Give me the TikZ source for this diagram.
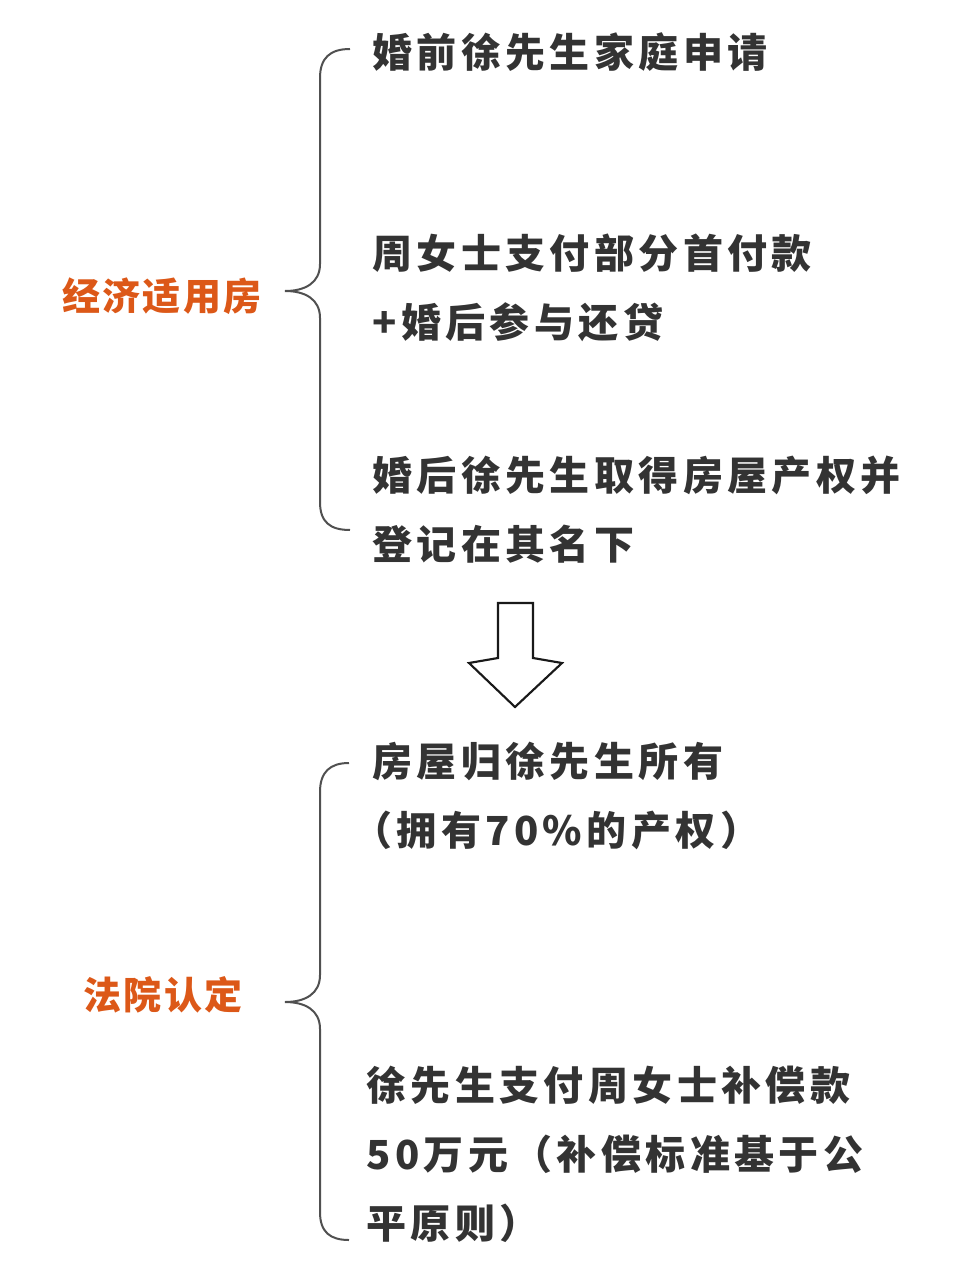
\documentclass[tikz,border=0pt]{standalone}
\usepackage{fontspec}
\newfontfamily\cjktopic[LetterSpace=6]{Noto Sans CJK SC}
\newfontfamily\cjkentry[LetterSpace=11]{Noto Sans CJK SC}
\usepackage{tikz}
\usetikzlibrary{calc}

\definecolor{topicorange}{RGB}{220,88,24}
\definecolor{entrygray}{RGB}{51,51,51}
\definecolor{bracegray}{RGB}{80,80,80}

\begin{document}
\begin{tikzpicture}[x=0.75pt, y=-0.75pt,
    topic/.style={text=topicorange, font=\cjktopic\bfseries\fontsize{28.5}{33}\selectfont, inner sep=0pt},
    entry/.style={text=entrygray, font=\cjkentry\bfseries\fontsize{30}{51.75}\selectfont, align=left, anchor=west, inner sep=0pt},
    brace/.style={draw=bracegray, line width=1.5pt}]
        \useasboundingbox (0,0) rectangle (974,1280);

        % Topics
        \node[topic] (housing) at (162,296) {经济适用房};
        \node[topic] (court) at (163,995) {法院认定};

        % Facts
        \node[entry] (apply) at (372,52) {婚前徐先生家庭申请};
        \node[entry] (payment) at (372,288) {周女士支付部分首付款\\+婚后参与还贷};
        \node[entry] (title) at (372,510) {婚后徐先生取得房屋产权并\\登记在其名下};

        % Ruling
        \node[entry] (owner) at (372,796) {房屋归徐先生所有\\\hspace{-0.5em}（拥有70\%的产权）};
        \node[entry] (compensation) at (366,1154) {徐先生支付周女士补偿款\\50万元（补偿标准基于公\\平原则）};

        % Upper brace
        \coordinate (tipA) at (285,291);
        \draw[brace] (350,49) .. controls (330,49) and (320,58) .. (320,78) -- (320,264)
            .. controls (320,283) and (305,291) .. (tipA)
            .. controls (305,291) and (320,299) .. (320,318) -- (320,502)
            .. controls (320,522) and (330,530) .. (350,530);

        % Lower brace
        \coordinate (tipB) at (285,1002);
        \draw[brace] (349,763) .. controls (330,763) and (320,772) .. (320,792) -- (320,975)
            .. controls (320,994) and (305,1002) .. (tipB)
            .. controls (305,1002) and (320,1010) .. (320,1029) -- (320,1212)
            .. controls (320,1232) and (330,1240) .. (349,1240);

        % Hollow arrow
        \draw[line width=1.6pt, draw=black!90, line join=miter] (498,603) -- (533,603) -- (533,658) -- (562,663)
            -- (515,707) -- (469,663) -- (498,658) -- cycle;
    \end{tikzpicture}
\end{document}
